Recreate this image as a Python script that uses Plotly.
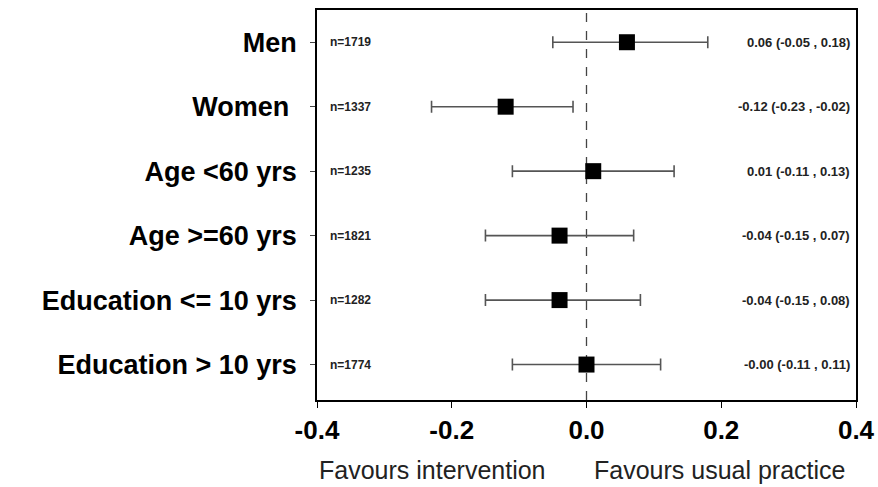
import plotly.graph_objects as go

groups = ["Men", "Women\u00a0", "Age <60 yrs", "Age >=60 yrs", "Education <= 10 yrs", "Education > 10 yrs"]
estimates = [0.06, -0.12, 0.01, -0.04, -0.04, -0.00]
lower = [-0.05, -0.23, -0.11, -0.15, -0.15, -0.11]
upper = [0.18, -0.02, 0.13, 0.07, 0.08, 0.11]
n_labels = ["n=1719", "n=1337", "n=1235", "n=1821", "n=1282", "n=1774"]
ci_labels = ["0.06 (-0.05 , 0.18)", "-0.12 (-0.23 , -0.02)", "0.01 (-0.11 , 0.13)",
             "-0.04 (-0.15 , 0.07)", "-0.04 (-0.15 , 0.08)", "-0.00 (-0.11 , 0.11)"]
x_ticks = [-0.4, -0.2, 0.0, 0.2, 0.4]
x_ticktext = ["-0.4", "-0.2", "0.0", "0.2", "0.4"]

rows = list(range(1, len(groups) + 1))
plus = [u - e for u, e in zip(upper, estimates)]
minus = [e - l for e, l in zip(estimates, lower)]

fig = go.Figure()
fig.add_trace(go.Scatter(
    x=estimates, y=rows, mode="markers",
    marker=dict(symbol="square", size=16, color="black"),
    error_x=dict(type="data", symmetric=False, array=plus, arrayminus=minus,
                 color="#555555", thickness=1.6, width=6),
    showlegend=False, cliponaxis=False,
))

for r, t in zip(rows, n_labels):
    fig.add_annotation(x=-0.384, y=r, text="<b>" + t + "</b>", showarrow=False, xanchor="left",
                       font=dict(family="Liberation Sans", size=12, color="#222"))
for r, t in zip(rows, ci_labels):
    fig.add_annotation(x=0.394, y=r, text="<b>" + t + "</b>", showarrow=False, xanchor="right",
                       font=dict(family="Liberation Sans", size=13, color="#222"))

fig.add_shape(type="line", x0=0, x1=0, y0=0, y1=1, xref="x", yref="paper",
              line=dict(color="#444", width=1.3, dash="dash"), layer="below")

fig.add_annotation(x=-0.229, y=-0.18, xref="x", yref="paper", yanchor="middle",
                   text="Favours intervention",
                   showarrow=False, font=dict(family="Liberation Sans", size=25, color="#222"))
fig.add_annotation(x=0.198, y=-0.18, xref="x", yref="paper", yanchor="middle",
                   text="Favours usual practice",
                   showarrow=False, font=dict(family="Liberation Sans", size=25, color="#222"))

fig.update_layout(
    width=878, height=487,
    margin=dict(l=317, r=22, t=10, b=87, autoexpand=False),
    paper_bgcolor="white", plot_bgcolor="white",
    xaxis=dict(range=[-0.4, 0.4], tickvals=x_ticks, ticktext=x_ticktext, automargin=False,
               showgrid=False, zeroline=False, showline=True, linecolor="black",
               linewidth=1.5, mirror=True, ticks="outside", ticklen=6, tickcolor="black",
               tickfont=dict(family="Liberation Sans", size=26, color="black", weight="bold")),
    yaxis=dict(range=[6.55, 0.5], tickvals=rows, ticktext=groups, automargin=False,
               showgrid=False, zeroline=False, showline=True, linecolor="black",
               linewidth=1.5, mirror=True, ticks="outside", ticklen=5, tickcolor="#444",
               ticklabelstandoff=8,
               tickfont=dict(family="Liberation Sans", size=27, color="black", weight="bold")),
)

fig.write_html("out.html", config={"displayModeBar": False},
               post_script="document.body.style.margin='0';document.body.style.overflow='hidden';")
